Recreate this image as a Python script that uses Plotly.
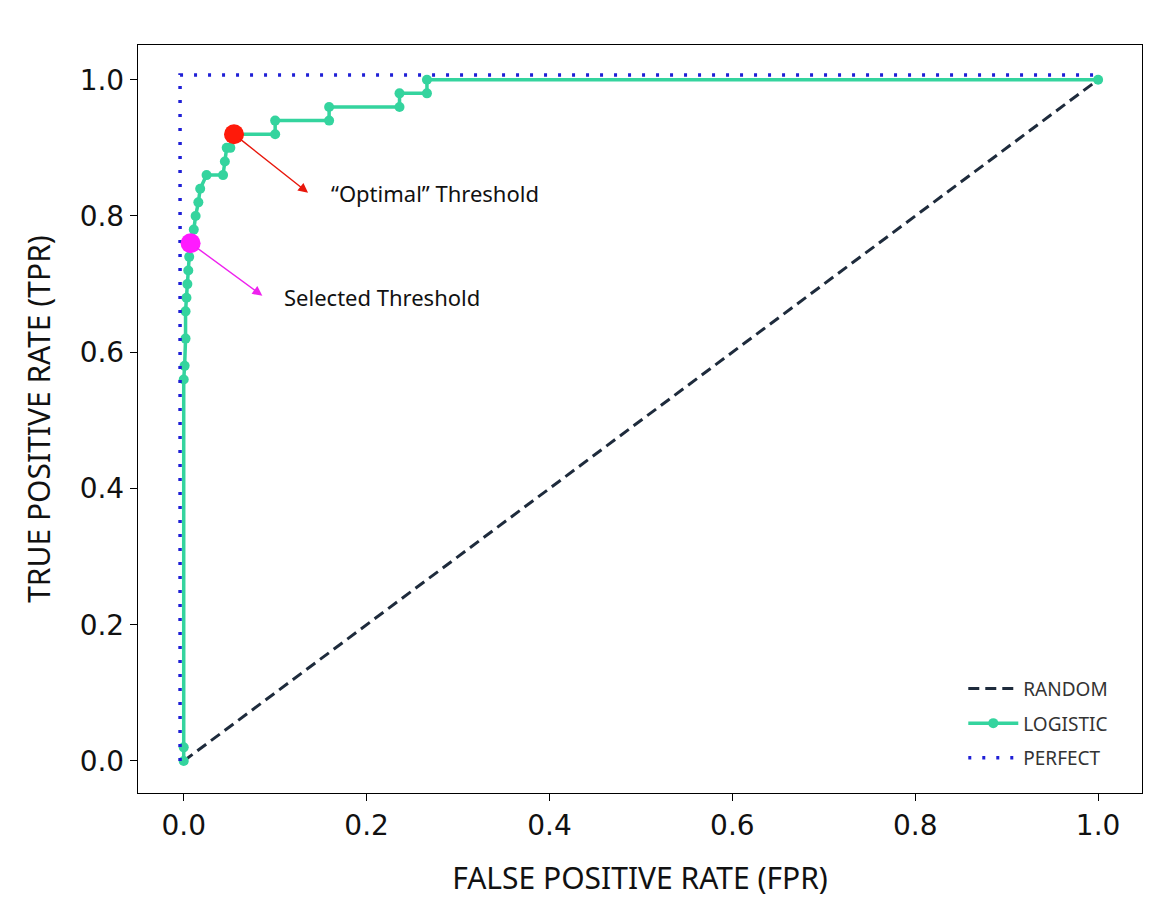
import plotly.graph_objects as go

# Data
fpr = [0.0, 0.0, 0.0, 0.001, 0.002, 0.002, 0.003, 0.004, 0.005, 0.006, 0.008,
       0.011, 0.013, 0.016, 0.018, 0.025, 0.043, 0.045, 0.047, 0.051, 0.055,
       0.10, 0.10, 0.159, 0.159, 0.236, 0.236, 0.266, 0.266, 1.0]
tpr = [0.0, 0.02, 0.56, 0.58, 0.62, 0.66, 0.68, 0.70, 0.72, 0.74, 0.76,
       0.78, 0.80, 0.82, 0.84, 0.86, 0.86, 0.88, 0.90, 0.90, 0.92,
       0.92, 0.94, 0.94, 0.96, 0.96, 0.98, 0.98, 1.0, 1.0]
random_x = [0.0, 1.0]
random_y = [0.0, 1.0]
perfect_x = [-0.004, -0.004, 1.0]
perfect_y = [0.0, 1.007, 1.007]
optimal_pt = (0.055, 0.92)
selected_pt = (0.0075, 0.76)
optimal_label = "“Optimal” Threshold"
selected_label = "Selected Threshold"
tick_vals = [0.0, 0.2, 0.4, 0.6, 0.8, 1.0]
tick_text = ["0.0", "0.2", "0.4", "0.6", "0.8", "1.0"]

GREEN = "#34d49e"
BLUE = "#1f1fd6"
NAVY = "#1e2b3c"
FONT = "Noto Sans"
TICKFONT = "DejaVu Sans"

fig = go.Figure()
fig.add_trace(go.Scatter(x=random_x, y=random_y, mode="lines", name="RANDOM",
                         legendgroup="a",
                         line=dict(color=NAVY, width=3, dash="11px,6px")))
fig.add_trace(go.Scatter(x=fpr, y=tpr, mode="lines+markers", name="LOGISTIC",
                         legendgroup="b",
                         line=dict(color=GREEN, width=3.5),
                         marker=dict(color=GREEN, size=10)))
fig.add_trace(go.Scatter(x=perfect_x, y=perfect_y, mode="lines", name="PERFECT",
                         legendgroup="c",
                         line=dict(color=BLUE, width=3.5, dash="3px,11px")))
fig.add_trace(go.Scatter(x=[optimal_pt[0]], y=[optimal_pt[1]], mode="markers",
                         marker=dict(color="#ff1a0a", size=20), showlegend=False))
fig.add_trace(go.Scatter(x=[selected_pt[0]], y=[selected_pt[1]], mode="markers",
                         marker=dict(color="#ff1aff", size=20), showlegend=False))

# arrows
fig.add_annotation(x=0.136, y=0.834, ax=optimal_pt[0], ay=optimal_pt[1],
                   xref="x", yref="y", axref="x", ayref="y", text="",
                   showarrow=True, arrowhead=2, arrowsize=1.4, arrowwidth=1.4,
                   arrowcolor="#e8170c", standoff=0, startstandoff=6)
fig.add_annotation(x=0.086, y=0.683, ax=selected_pt[0], ay=selected_pt[1],
                   xref="x", yref="y", axref="x", ayref="y", text="",
                   showarrow=True, arrowhead=2, arrowsize=1.4, arrowwidth=1.4,
                   arrowcolor="#ee22ee", standoff=0, startstandoff=6)
fig.add_annotation(x=0.159, y=0.834, xref="x", yref="y", text=optimal_label,
                   showarrow=False, xanchor="left", yanchor="middle",
                   font=dict(family=FONT, size=22, color="#111111"))
fig.add_annotation(x=0.108, y=0.681, xref="x", yref="y", text=selected_label,
                   showarrow=False, xanchor="left", yanchor="middle",
                   font=dict(family=FONT, size=22, color="#111111"))

axis_common = dict(showgrid=False, zeroline=False, showline=True, linecolor="black",
                   linewidth=1.4, mirror=True, ticks="outside", ticklen=7,
                   tickwidth=1.4, tickcolor="black", tickvals=tick_vals,
                   ticktext=tick_text, automargin=False,
                   tickfont=dict(family=TICKFONT, size=28, color="#111111"))

fig.update_layout(
    width=1156, height=890,
    paper_bgcolor="white", plot_bgcolor="white",
    margin=dict(l=130, r=22, t=37, b=105),
    xaxis=dict(range=[-0.05, 1.048], title=dict(text="FALSE POSITIVE RATE (FPR)",
               font=dict(family=FONT, size=30, color="#111111"), standoff=30),
               **axis_common),
    yaxis=dict(range=[-0.047, 1.051], title=dict(text="TRUE POSITIVE RATE (TPR)",
               font=dict(family=FONT, size=30, color="#111111"), standoff=20),
               **axis_common),
    legend=dict(x=0.822, y=0.165, xanchor="left", yanchor="top",
                bgcolor="rgba(255,255,255,0)", borderwidth=0,
                font=dict(family=FONT, size=19, color="#333333"),
                tracegroupgap=7, itemwidth=50),
    showlegend=True,
)

fig.write_html("out.html")
